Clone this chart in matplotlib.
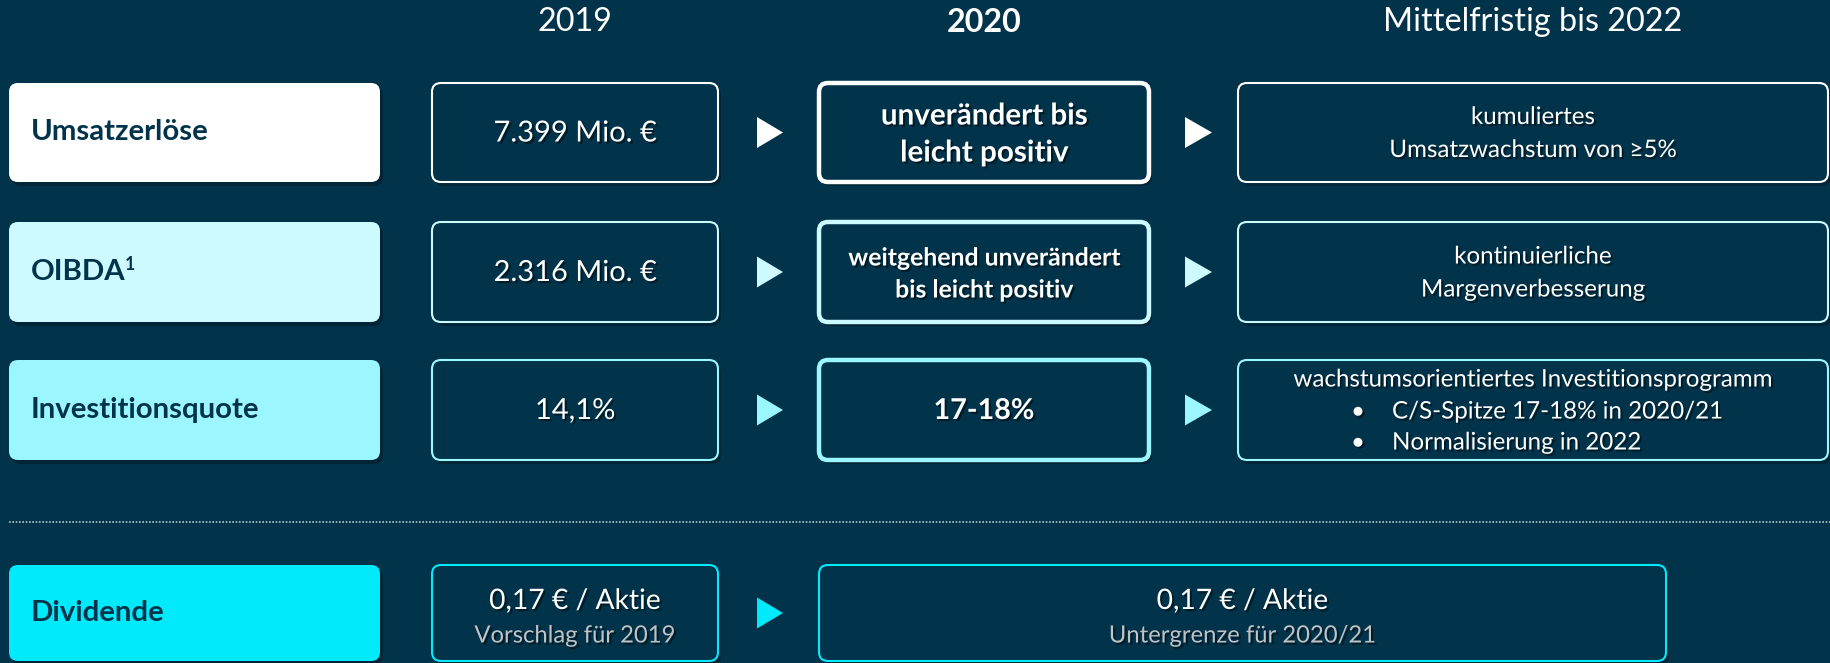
import matplotlib
matplotlib.use('Agg')
import matplotlib.pyplot as plt
from matplotlib.patches import FancyBboxPatch, Polygon
import matplotlib.patheffects as pe

# ---------------- data ----------------
headers = ['2019', '2020', 'Mittelfristig bis 2022']
header_bold = [False, True, False]
row_labels = ['Umsatzerlöse', 'OIBDA', 'Investitionsquote', 'Dividende']
row_label_sup = ['', '1', '', '']
row_colors = ['#FFFFFF', '#CCFAFE', '#9BF6FE', '#00EAFB']
values_2019 = ['7.399 Mio. €', '2.316 Mio. €', '14,1%']
outlook_2020 = [['unverändert bis', 'leicht positiv'],
                ['weitgehend unverändert', 'bis leicht positiv'],
                ['17-18%']]
outlook_2022_head = ['kumuliertes', 'kontinuierliche', 'wachstumsorientiertes Investitionsprogramm']
outlook_2022_lines = [['Umsatzwachstum von ≥5%'], ['Margenverbesserung'],
                      ['C/S-Spitze 17-18% in 2020/21', 'Normalisierung in 2022']]
dividend_2019 = ['0,17 € / Aktie', 'Vorschlag für 2019']
dividend_2020 = ['0,17 € / Aktie', 'Untergrenze für 2020/21']

# ---------------- layout (pixels) ----------------
W, H = 1831, 663
BG = '#01334A'
DARK = '#01334A'
GREY = '#BFC3C5'
plt.rcParams['font.family'] = ['Lato', 'DejaVu Sans']

col_label = (9, 380)
col19 = (432, 718)
col20 = (819, 1149)
col22 = (1238, 1828)
div20 = (819, 1666)
rows_y = [(83, 182), (222, 322), (360, 460)]
div_y = (565, 661)
arrow_x = [(757, 783), (1185, 1212)]

# measured text widths in the reference, used to size the substitute font
target_w = {
    '2019': 72, 'Mittelfristig bis 2022': 312, '2020': 75,
    'Umsatzerlöse': 178, 'Investitionsquote': 231, 'Dividende': 134,
    '7.399 Mio. €': 163, '2.316 Mio. €': 163,
    'unverändert bis': 208, 'leicht positiv': 168,
    'weitgehend unverändert': 275, 'bis leicht positiv': 177,
    'kumuliertes': 127, 'Umsatzwachstum von ≥5%': 289,
    'wachstumsorientiertes Investitionsprogramm': 492,
    'C/S-Spitze 17-18% in 2020/21': 318, 'Normalisierung in 2022': 248,
    '0,17 € / Aktie': 172, 'Vorschlag für 2019': 201, 'Untergrenze für 2020/21': 268,
}

fig = plt.figure(figsize=(W / 100, H / 100), dpi=100)
fig.patch.set_facecolor(BG)
ax = fig.add_axes([0, 0, 1, 1])
ax.set_xlim(0, W)
ax.set_ylim(H, 0)
ax.axis('off')
renderer = fig.canvas.get_renderer()


def fit_size(strings, weight='normal', base=20.0):
    sizes = []
    for s in strings:
        t = ax.text(0, 0, s, fontsize=base, fontweight=weight)
        w = t.get_window_extent(renderer=renderer).width
        t.remove()
        sizes.append(base * target_w[s] / w)
    return sum(sizes) / len(sizes)


fs_head = fit_size(['2019', 'Mittelfristig bis 2022'])
fs_head_b = fit_size(['2020'], 'bold')
fs_label = fit_size(['Umsatzerlöse', 'Investitionsquote', 'Dividende'], 'bold')
fs_val = fit_size(['7.399 Mio. €', '2.316 Mio. €'])
fs_o1 = fit_size(['unverändert bis', 'leicht positiv'], 'bold')
fs_o2 = fit_size(['weitgehend unverändert', 'bis leicht positiv'], 'bold')
fs_mid = fit_size(['kumuliertes', 'Umsatzwachstum von ≥5%',
                   'wachstumsorientiertes Investitionsprogramm',
                   'C/S-Spitze 17-18% in 2020/21', 'Normalisierung in 2022'])
fs_div = fit_size(['0,17 € / Aktie'])
fs_div_s = fit_size(['Vorschlag für 2019', 'Untergrenze für 2020/21'])

shadow = [pe.withSimplePatchShadow(offset=(1.5, -1.5), shadow_rgbFace='black', alpha=0.45)]


def box(x0, x1, y0, y1, fc, ec, lw, z=2):
    s = FancyBboxPatch((x0 + 3, y0 + 4), x1 - x0, y1 - y0,
                       boxstyle='round,pad=0,rounding_size=9',
                       fc='#00141f', ec='none', alpha=0.45, zorder=z - 1)
    ax.add_patch(s)
    p = FancyBboxPatch((x0, y0), x1 - x0, y1 - y0,
                       boxstyle='round,pad=0,rounding_size=9',
                       fc=fc, ec=ec, lw=lw, zorder=z)
    ax.add_patch(p)


def arrow(x0, x1, yc, color):
    h = 31
    ax.add_patch(Polygon([(x0, yc - h / 2), (x1, yc), (x0, yc + h / 2)],
                         closed=True, fc=color, ec='none', zorder=3))


def wtext(x, y, s, fs, bold=False, color='white', ha='center'):
    return ax.text(x, y, s, ha=ha, va='center', fontsize=fs,
                   fontweight='bold' if bold else 'normal', color=color,
                   zorder=5, path_effects=shadow)


# headers
col_centers = [(col19[0] + col19[1]) / 2, (col20[0] + col20[1]) / 2, (col22[0] + col22[1]) / 2]
for h, b, xc in zip(headers, header_bold, col_centers):
    ax.text(xc, 22, h, ha='center', va='center', fontsize=fs_head_b if b else fs_head,
            fontweight='bold' if b else 'normal', color='white')

# label column
all_y = rows_y + [div_y]
for i, (lab, sup, col) in enumerate(zip(row_labels, row_label_sup, row_colors)):
    y0, y1 = all_y[i]
    yc = (y0 + y1) / 2
    box(col_label[0], col_label[1], y0, y1, col, 'none', 0)
    t = ax.text(31, yc, lab, ha='left', va='center', fontsize=fs_label,
                fontweight='bold', color=DARK, zorder=5)
    if sup:
        bb = t.get_window_extent(renderer=renderer)
        xe, _ = ax.transData.inverted().transform((bb.x1, bb.y1))
        ax.text(xe - 1, yc - 8, sup, ha='left', va='center', fontsize=fs_label * 0.6,
                fontweight='bold', color=DARK, zorder=5)

# main rows
line_off_2020 = [(-17, 20), (-14, 18)]
for i in range(3):
    y0, y1 = rows_y[i]
    yc = (y0 + y1) / 2
    col = row_colors[i]
    # 2019
    box(col19[0], col19[1], y0, y1, BG, col, 1.5)
    wtext((col19[0] + col19[1]) / 2, yc + 1, values_2019[i], fs_val)
    arrow(arrow_x[0][0], arrow_x[0][1], yc, col)
    # 2020
    box(col20[0], col20[1], y0, y1, BG, col, 3.2)
    lines = outlook_2020[i]
    xc = (col20[0] + col20[1]) / 2
    if len(lines) == 2:
        fs = fs_o1 if i == 0 else fs_o2
        wtext(xc, yc + line_off_2020[i][0], lines[0], fs, bold=True)
        wtext(xc, yc + line_off_2020[i][1], lines[1], fs, bold=True)
    else:
        wtext(xc, yc + 1, lines[0], fs_o1 * 0.97, bold=True)
    arrow(arrow_x[1][0], arrow_x[1][1], yc, col)
    # mid-term
    box(col22[0], col22[1], y0, y1, BG, col, 1.5)
    xc = (col22[0] + col22[1]) / 2
    if i < 2:
        wtext(xc, yc - 15, outlook_2022_head[i], fs_mid)
        wtext(xc, yc + 18, outlook_2022_lines[i][0], fs_mid)
    else:
        wtext(xc, y0 + 20, outlook_2022_head[i], fs_mid)
        for k, ln in enumerate(outlook_2022_lines[i]):
            yy = y0 + 52 + k * 31
            wtext(1358, yy, '•', fs_mid)
            wtext(1392, yy, ln, fs_mid, ha='left')

# dotted separator
ax.plot([9, W], [522, 522], color='#B8C4CA', lw=1.2, ls=(0, (1, 1)), zorder=1)

# dividend row
y0, y1 = div_y
yc = (y0 + y1) / 2
col = row_colors[3]
box(col19[0], col19[1], y0, y1, BG, col, 1.5)
xc = (col19[0] + col19[1]) / 2
wtext(xc, 601, dividend_2019[0], fs_div)
wtext(xc, 636, dividend_2019[1], fs_div_s, color=GREY)
arrow(arrow_x[0][0], arrow_x[0][1], yc, col)
box(div20[0], div20[1], y0, y1, BG, col, 1.5)
xc = (div20[0] + div20[1]) / 2
wtext(xc, 601, dividend_2020[0], fs_div)
wtext(xc, 636, dividend_2020[1], fs_div_s, color=GREY)

fig.savefig('out.png', dpi=100, facecolor=BG)
